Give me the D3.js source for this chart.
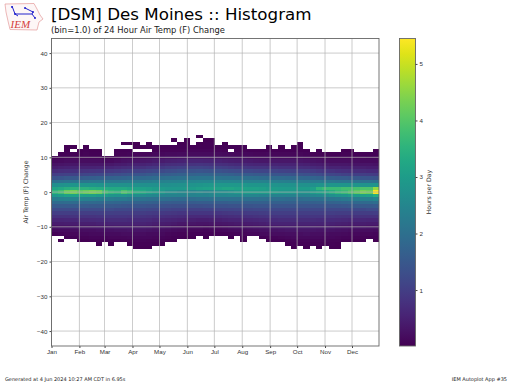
<!DOCTYPE html>
<html>
<head>
    <meta charset="utf-8">
    <title>Des Moines Histogram</title>
    <script type="text/javascript" src="https://cdnjs.cloudflare.com/ajax/libs/d3/7.8.5/d3.min.js"></script>
    <style>
        body { margin: 0; background: #fff; }
        svg { display: block; font-family: "DejaVu Sans", sans-serif; }
        .domain { display: none; }
        .tick text { fill: #333; font-size: 6.2px; }
        .tick line { stroke: #444; }
    </style>
</head>
<body>
    <div id="d3"></div>
    <script type="text/javascript">
        var monthLabels = ['Jan', 'Feb', 'Mar', 'Apr', 'May', 'Jun', 'Jul', 'Aug', 'Sep', 'Oct', 'Nov', 'Dec'];
        var monthDays = [1, 32, 60, 91, 121, 152, 182, 213, 244, 274, 305, 335];
        var yTicks = [-40, -30, -20, -10, 0, 10, 20, 30, 40];
        var colorTicks = [1, 2, 3, 4, 5];

        // temperature change of each row, same order as the hours rows below
        var changeBins = [16, 15, 14, 13, 12, 11, 10, 9, 8, 7, 6, 5, 4, 3, 2, 1, 0,
            -1, -2, -3, -4, -5, -6, -7, -8, -9, -10, -11, -12, -13, -14, -15, -16];

        // hours per day, 52 weekly columns, 0 = no data (white)
        var hours = [
            [0,0,0,0,0,0,0,0,0,0,0,0,0, 0,0,0,0,0,0,0,0,0,0,.03,0,0, 0,0,0,0,0,0,0,0,0,0,0,0,0, 0,0,0,0,0,0,0,0,0,0,0,0,0],
            [0,0,0,0,0,0,0,0,0,0,0,0,0, 0,0,0,0,0,0,.03,0,.03,0,0,.03,.03, 0,0,0,0,0,0,0,0,0,0,0,0,0, 0,0,0,0,0,0,0,0,0,0,0,0,0],
            [0,0,0,0,0,0,0,0,0,0,0,.03,.03, .03,0,.03,0,0,0,0,.03,.03,0,.03,.04,.04, 0,.03,0,0,0,0,0,0,0,0,0,0,0, .03,0,0,0,0,0,0,0,0,0,0,0,0],
            [0,0,.03,.03,0,.03,0,0,0,0,0,0,0, .03,.03,.03,.04,.04,.04,.04,.05,.05,.05,.05,.05,.05, .05,.05,.04,.04,.04,0,0,0,.03,0,.03,0,.03, .04,0,0,0,0,0,0,0,0,0,0,0,0],
            [0,0,.03,0,.03,.04,.03,.03,0,0,.04,.04,.05, 0,0,0,.05,.06,.06,.07,.07,.08,.08,.08,.08,.08, .08,.07,0,.06,.06,.05,.05,.05,.05,.05,.05,.04,.05, .05,.04,0,.04,0,0,0,.03,.03,0,0,0,.03],
            [0,.04,.05,.05,.05,.06,.05,.05,0,0,.06,.07,.08, .1,.1,.11,.12,.13,.14,.15,.16,.17,.17,.18,.18,.17, .17,.15,.14,.13,.13,.12,.11,.11,.12,.11,.11,.1,.11, .11,.09,.07,.07,.05,.05,.05,.06,.06,.05,.05,.05,.05],
            [.04,.08,.1,.1,.1,.11,.1,.1,.07,.07,.11,.14,.15, .18,.2,.22,.23,.25,.27,.28,.3,.31,.33,.33,.33,.32, .3,.28,.26,.25,.24,.22,.22,.21,.21,.2,.2,.2,.2, .19,.17,.15,.13,.12,.11,.11,.11,.11,.1,.1,.09,.1],
            [.15,.17,.2,.2,.19,.2,.2,.19,.18,.18,.22,.25,.28, .3,.33,.36,.4,.43,.46,.48,.5,.52,.55,.55,.54,.52, .5,.47,.44,.42,.4,.38,.36,.35,.35,.34,.33,.33,.33, .32,.3,.27,.25,.22,.2,.19,.2,.2,.19,.18,.17,.17],
            [.28,.3,.32,.33,.33,.33,.33,.34,.35,.36,.4,.43,.46, .5,.53,.58,.62,.66,.7,.72,.75,.78,.8,.82,.8,.78, .75,.72,.68,.65,.62,.6,.58,.57,.56,.55,.53,.52,.52, .5,.48,.44,.42,.38,.35,.33,.33,.32,.3,.3,.29,.28],
            [.45,.48,.5,.52,.52,.53,.53,.55,.58,.6,.63,.67,.7, .75,.78,.84,.88,.92,.97,1,1.03,1.06,1.1,1.1,1.08,1.05, 1.03,1,.96,.92,.88,.85,.83,.82,.8,.78,.77,.76,.75, .73,.7,.66,.62,.58,.54,.52,.5,.5,.48,.47,.45,.44],
            [.68,.72,.75,.77,.78,.8,.82,.84,.88,.9,.94,.98,1.02, 1.06,1.1,1.15,1.2,1.24,1.28,1.3,1.35,1.38,1.4,1.42,1.4,1.38, 1.35,1.32,1.28,1.25,1.2,1.18,1.15,1.13,1.12,1.1,1.08,1.06,1.05, 1.02,1,.95,.9,.85,.8,.76,.74,.72,.7,.68,.66,.65],
            [1,1.04,1.06,1.08,1.1,1.12,1.16,1.2,1.24,1.26,1.3,1.33,1.38, 1.42,1.46,1.5,1.54,1.58,1.6,1.64,1.68,1.7,1.72,1.75,1.75,1.72, 1.7,1.68,1.65,1.6,1.58,1.54,1.52,1.5,1.48,1.45,1.43,1.42,1.4, 1.38,1.34,1.3,1.25,1.2,1.15,1.1,1.06,1.04,1.02,1,.98,.96],
            [1.4,1.45,1.5,1.5,1.55,1.6,1.62,1.65,1.68,1.7,1.72,1.75,1.78, 1.82,1.85,1.88,1.92,1.95,1.98,2,2.02,2.05,2.08,2.1,2.1,2.1, 2.08,2.06,2.05,2.02,2,1.98,1.95,1.92,1.9,1.88,1.86,1.84,1.82, 1.8,1.78,1.74,1.7,1.65,1.62,1.58,1.55,1.5,1.48,1.45,1.42,1.4],
            [2,2.05,2.1,2.12,2.15,2.15,2.18,2.2,2.2,2.2,2.2,2.22,2.25, 2.28,2.3,2.32,2.35,2.38,2.4,2.42,2.45,2.48,2.5,2.52,2.52,2.52, 2.52,2.5,2.5,2.48,2.45,2.42,2.4,2.4,2.38,2.35,2.34,2.32,2.3, 2.3,2.28,2.25,2.25,2.2,2.18,2.15,2.15,2.12,2.1,2.05,2.05,2],
            [2.7,2.75,2.8,2.85,2.85,2.85,2.85,2.8,2.8,2.75,2.75,2.75,2.75, 2.75,2.72,2.72,2.72,2.7,2.7,2.72,2.75,2.78,2.8,2.85,2.88,2.9, 2.92,2.92,2.92,2.9,2.88,2.85,2.85,2.85,2.82,2.8,2.78,2.78,2.75, 2.75,2.75,2.72,2.8,2.8,2.85,2.85,2.85,2.85,2.85,2.8,2.8,2.85],
            [3.2,3.3,3.45,3.5,3.5,3.5,3.45,3.4,3.35,3.3,3.3,3.3,3.2, 3.15,3.1,3.05,3,2.95,2.9,2.9,2.92,2.95,3,3.05,3.1,3.15, 3.15,3.2,3.2,3.15,3.15,3.12,3.1,3.05,3,3,2.98,2.95,2.95, 3,3,3.05,3.55,3.7,3.7,3.7,3.8,3.8,3.85,3.9,3.9,4.6],
            [3.6,3.8,4.2,4.3,4.1,4.2,4.3,4.2,3.8,3.6,3.5,3.9,3.7, 3.4,3.3,3.1,3,2.9,2.7,2.7,2.6,2.6,2.5,2.6,2.5,2.6, 2.7,2.7,2.8,2.9,3,3,3,3,3,3,2.9,2.9,2.9, 2.8,2.8,3,3.1,3.2,3.4,3.6,3.7,3.9,4.1,4.3,4.2,5.4],
            [2.9,3,3.1,3.15,3.1,3.05,3.05,3,2.95,2.85,2.8,2.8,2.7, 2.65,2.6,2.55,2.5,2.45,2.42,2.4,2.4,2.4,2.42,2.45,2.45,2.48, 2.5,2.5,2.52,2.5,2.5,2.5,2.48,2.45,2.45,2.42,2.4,2.4,2.4, 2.4,2.4,2.5,2.55,2.6,2.7,2.8,2.85,2.95,3,3.05,3.1,3.4],
            [2.3,2.35,2.4,2.4,2.4,2.35,2.35,2.3,2.3,2.25,2.2,2.2,2.15, 2.1,2.05,2,2,1.98,1.95,1.92,1.9,1.9,1.92,1.95,1.95,1.98, 2,2,2,2,2,2,2,1.98,1.95,1.95,1.95,1.92,1.92, 1.92,1.95,2,2,2.05,2.1,2.15,2.2,2.25,2.3,2.35,2.35,2.5],
            [1.9,1.9,1.92,1.92,1.9,1.88,1.88,1.85,1.82,1.8,1.78,1.75,1.75, 1.72,1.7,1.68,1.65,1.62,1.6,1.58,1.58,1.58,1.58,1.6,1.6,1.62, 1.62,1.62,1.65,1.65,1.65,1.65,1.65,1.65,1.65,1.65,1.65,1.65,1.65, 1.65,1.65,1.65,1.68,1.7,1.72,1.75,1.78,1.8,1.85,1.88,1.9,1.95],
            [1.55,1.55,1.55,1.55,1.55,1.55,1.52,1.52,1.5,1.5,1.48,1.47,1.45, 1.45,1.42,1.4,1.38,1.36,1.34,1.32,1.32,1.32,1.32,1.32,1.34,1.35, 1.35,1.36,1.38,1.38,1.4,1.4,1.42,1.42,1.42,1.42,1.42,1.42,1.42, 1.42,1.42,1.42,1.42,1.42,1.45,1.45,1.47,1.48,1.5,1.52,1.52,1.55],
            [1.25,1.25,1.25,1.25,1.25,1.25,1.25,1.25,1.25,1.25,1.22,1.22,1.2, 1.2,1.18,1.16,1.14,1.12,1.1,1.08,1.08,1.06,1.06,1.06,1.08,1.08, 1.1,1.12,1.12,1.14,1.15,1.16,1.18,1.2,1.2,1.2,1.2,1.2,1.2, 1.2,1.2,1.2,1.2,1.2,1.2,1.2,1.2,1.22,1.22,1.22,1.25,1.25],
            [1,1,1,.98,1,1,1,1.02,1.02,1.02,1,1,1, .98,.98,.96,.94,.92,.9,.88,.86,.84,.84,.84,.84,.85, .86,.88,.9,.92,.94,.95,.96,.98,1,1,1,1,1, 1,1,1,1,1,1,.98,.98,.98,.98,.98,.98,1],
            [.78,.78,.78,.8,.8,.8,.8,.82,.84,.84,.84,.84,.82, .82,.8,.78,.76,.74,.72,.7,.68,.66,.64,.64,.64,.65, .66,.68,.7,.72,.74,.76,.78,.8,.82,.82,.84,.84,.84, .84,.84,.84,.84,.82,.82,.8,.78,.78,.78,.78,.78,.78],
            [.58,.58,.6,.6,.62,.62,.63,.65,.66,.67,.67,.67,.66, .66,.65,.63,.6,.58,.55,.53,.5,.48,.46,.45,.45,.46, .47,.5,.52,.54,.56,.58,.6,.62,.64,.66,.67,.68,.68, .68,.68,.68,.66,.66,.65,.63,.62,.6,.6,.6,.58,.58],
            [.42,.42,.44,.45,.46,.47,.47,.5,.5,.52,.53,.53,.53, .52,.52,.5,.47,.44,.42,.38,.35,.33,.31,.3,.3,.31, .32,.34,.36,.38,.4,.43,.45,.47,.5,.52,.53,.54,.54, .54,.54,.54,.52,.52,.5,.48,.47,.45,.44,.44,.43,.42],
            [.28,.29,.3,.32,.33,.33,.34,.36,.37,.38,.4,.4,.4, .4,.4,.38,.35,.32,.29,.26,.24,.22,.2,.19,.18,.19, .2,.22,.24,.26,.28,.3,.32,.34,.37,.39,.4,.42,.42, .42,.42,.42,.4,.4,.38,.36,.35,.32,.32,.31,.3,.29],
            [.14,.16,.18,.2,.2,.21,.22,.24,.25,.26,.28,.28,.29, .3,.3,.28,.25,.22,.19,.16,.14,.12,.11,.1,.09,.1, .11,.12,.14,.16,.18,.2,.22,.24,.26,.28,.3,.31,.32, .32,.32,.32,.3,.3,.28,.26,.24,.22,.21,.2,.19,.17],
            [.04,.08,.1,.11,.12,.13,.14,.15,.16,.17,.18,.19,.2, .2,.2,.18,.16,.14,.11,.09,.07,.06,.05,.04,.04,.04, .05,.05,.06,.08,.1,.12,.13,.14,.17,.19,.2,.21,.22, .22,.23,.22,.21,.2,.18,.17,.15,.13,.12,.11,.1,.09],
            [0,0,.04,.05,.06,.07,.08,.09,.09,.1,.1,.11,.12, .13,.13,.12,.1,.08,.06,.05,.04,.03,.03,0,.03,0, 0,0,.03,0,.04,0,0,.04,.06,.08,.1,.12,.14, .14,.15,.15,.14,.13,.12,.11,.09,.08,.07,.06,.05,.05],
            [0,.03,0,0,.03,.03,.04,.05,.04,.05,.05,.06,.07, .08,.08,.07,.06,.04,.03,.03,0,0,0,0,0,0, 0,0,0,0,.03,0,0,0,.03,.04,.05,.07,.08, .09,.09,.09,.09,.08,.07,.06,.05,.04,.03,.03,0,.03],
            [0,0,0,0,0,0,0,.03,0,.03,0,0,.03, .04,.04,.04,.03,.03,0,0,0,0,0,0,0,0, 0,0,0,0,0,0,0,0,0,0,0,.03,.04, .05,.05,.04,.05,.04,.04,.03,0,0,0,0,0,0],
            [0,0,0,0,0,0,0,0,0,0,0,0,0, .03,.03,.03,0,0,0,0,0,0,0,0,0,0, 0,0,0,0,0,0,0,0,0,0,0,0,.03, 0,.03,0,.03,0,.03,.03,0,0,0,0,0,0]
        ];

        var w = 512, h = 384,
            margin = {top: 38.5, right: 133, bottom: 38, left: 51.5},
            height = h - margin.top - margin.bottom,
            width = w - margin.left - margin.right,
            binDays = 7;

        var svg = d3.select('#d3').append('svg').attr('width', w).attr('height', h);

        // y runs a little past +-44 so the ticks land where the original has them
        var xScale = d3.scaleLinear().domain([1, 365]).range([margin.left, margin.left + width]);
        var yScale = d3.scaleLinear().domain([-44.3, 44.2]).range([margin.top + height, margin.top]);
        var colorScale = d3.scaleSequential(d3.interpolateViridis).domain([0.01, 5.45]);

        var cells = [];
        changeBins.forEach(function(bin, r){
            hours[r].forEach(function(v, c){
                if (v > 0) cells.push({bin: bin, week: c, value: v});
            });
        });

        // heatmap first, grid has to sit on top of it
        svg.append('g').selectAll('rect').data(cells).enter().append('rect')
            .attr('x', function(d){return xScale(1 + d.week * binDays);})
            .attr('width', function(d){return xScale(1 + (d.week + 1) * binDays) - xScale(1 + d.week * binDays);})
            .attr('y', function(d){return yScale(d.bin + 0.5);})
            .attr('height', function(d){return yScale(d.bin - 0.5) - yScale(d.bin + 0.5);})
            .attr('shape-rendering', 'crispEdges')
            .style('fill', function(d){return colorScale(d.value);});

        var xAxis = svg.append('g').attr('transform', 'translate(0,' + (margin.top + height) + ')')
            .call(d3.axisBottom(xScale).tickValues(monthDays)
                .tickFormat(function(d, i){return monthLabels[i];}).tickSize(2).tickPadding(2));
        var yAxis = svg.append('g').attr('transform', 'translate(' + margin.left + ',0)')
            .call(d3.axisLeft(yScale).tickValues(yTicks).tickSize(2).tickPadding(2));

        // grid lines, a touch see-through like the original
        svg.append('g').selectAll('line').data(monthDays).enter().append('line')
            .attr('x1', function(d){return xScale(d);}).attr('x2', function(d){return xScale(d);})
            .attr('y1', margin.top).attr('y2', margin.top + height)
            .style('stroke', '#b4b4b4').style('stroke-width', 0.8).style('opacity', 0.85);
        svg.append('g').selectAll('line').data(yTicks).enter().append('line')
            .attr('x1', margin.left).attr('x2', margin.left + width)
            .attr('y1', function(d){return yScale(d);}).attr('y2', function(d){return yScale(d);})
            .style('stroke', '#b4b4b4').style('stroke-width', 0.8).style('opacity', 0.85);

        svg.append('rect').attr('x', margin.left).attr('y', margin.top).attr('width', width).attr('height', height)
            .style('fill', 'none').style('stroke', '#666').style('stroke-width', 0.9);

        // colorbar
        var barX = 399.5, barW = 16;
        var cScale = d3.scaleLinear().domain([0.01, 5.45]).range([margin.top + height, margin.top]);
        var grad = svg.append('defs').append('linearGradient').attr('id', 'viridis')
            .attr('x1', 0).attr('x2', 0).attr('y1', 1).attr('y2', 0);
        d3.range(0, 1.01, 0.05).forEach(function(t){
            grad.append('stop').attr('offset', t).attr('stop-color', d3.interpolateViridis(t));
        });
        svg.append('rect').attr('x', barX).attr('y', margin.top).attr('width', barW).attr('height', height)
            .style('fill', 'url(#viridis)').style('stroke', '#666').style('stroke-width', 0.9);
        svg.append('g').attr('transform', 'translate(' + (barX + barW) + ',0)')
            .call(d3.axisRight(cScale).tickValues(colorTicks).tickSize(2).tickPadding(2).tickFormat(d3.format('d')));

        // text
        svg.append('text').attr('x', 51).attr('y', 20).text('[DSM] Des Moines :: Histogram')
            .style('font-size', '16.7px').style('fill', '#000');
        svg.append('text').attr('x', 51).attr('y', 32.5).text('(bin=1.0) of 24 Hour Air Temp (F) Change')
            .style('font-size', '8.35px').style('fill', '#222');
        svg.append('text').attr('transform', 'translate(28,192) rotate(-90)').attr('text-anchor', 'middle')
            .text('Air Temp (F) Change').style('font-size', '6.2px').style('fill', '#333');
        svg.append('text').attr('transform', 'translate(431,192) rotate(-90)').attr('text-anchor', 'middle')
            .text('Hours per Day').style('font-size', '6.2px').style('fill', '#333');
        svg.append('text').attr('x', 5).attr('y', 381).text('Generated at 4 Jun 2024 10:27 AM CDT in 6.95s')
            .style('font-size', '5px').style('fill', '#222');
        svg.append('text').attr('x', 507).attr('y', 381).attr('text-anchor', 'end').text('IEM Autoplot App #35')
            .style('font-size', '5px').style('fill', '#222');

        // IEM logo, the state outline with the blue network on it
        var logo = svg.append('g');
        logo.append('path').attr('d', 'M5 4 L34 3.5 L37 9 L40 15 L43 19 L39 22 L37 30 L10 29.5 L8 21 L6 12 Z')
            .style('fill', '#fdf6f6').style('stroke', '#e49a9a').style('stroke-width', 0.7);
        logo.append('path').attr('d', 'M12 6 L15 14 L32 14 L35 18 M25 8 L33 12 L32 14 M15 14 L18 16')
            .style('fill', 'none').style('stroke', '#2222cc').style('stroke-width', 1);
        logo.selectAll('circle').data([[12, 7], [15, 14], [25, 8], [33, 12], [35, 18]]).enter().append('circle')
            .attr('cx', function(d){return d[0];}).attr('cy', function(d){return d[1];}).attr('r', 1)
            .style('fill', '#2222cc');
        logo.append('text').attr('x', 10.5).attr('y', 28).text('IEM')
            .style('font-family', '"Liberation Serif", serif').style('font-style', 'italic')
            .style('font-size', '11px').style('fill', '#d43c3c');
    </script>
</body>
</html>
